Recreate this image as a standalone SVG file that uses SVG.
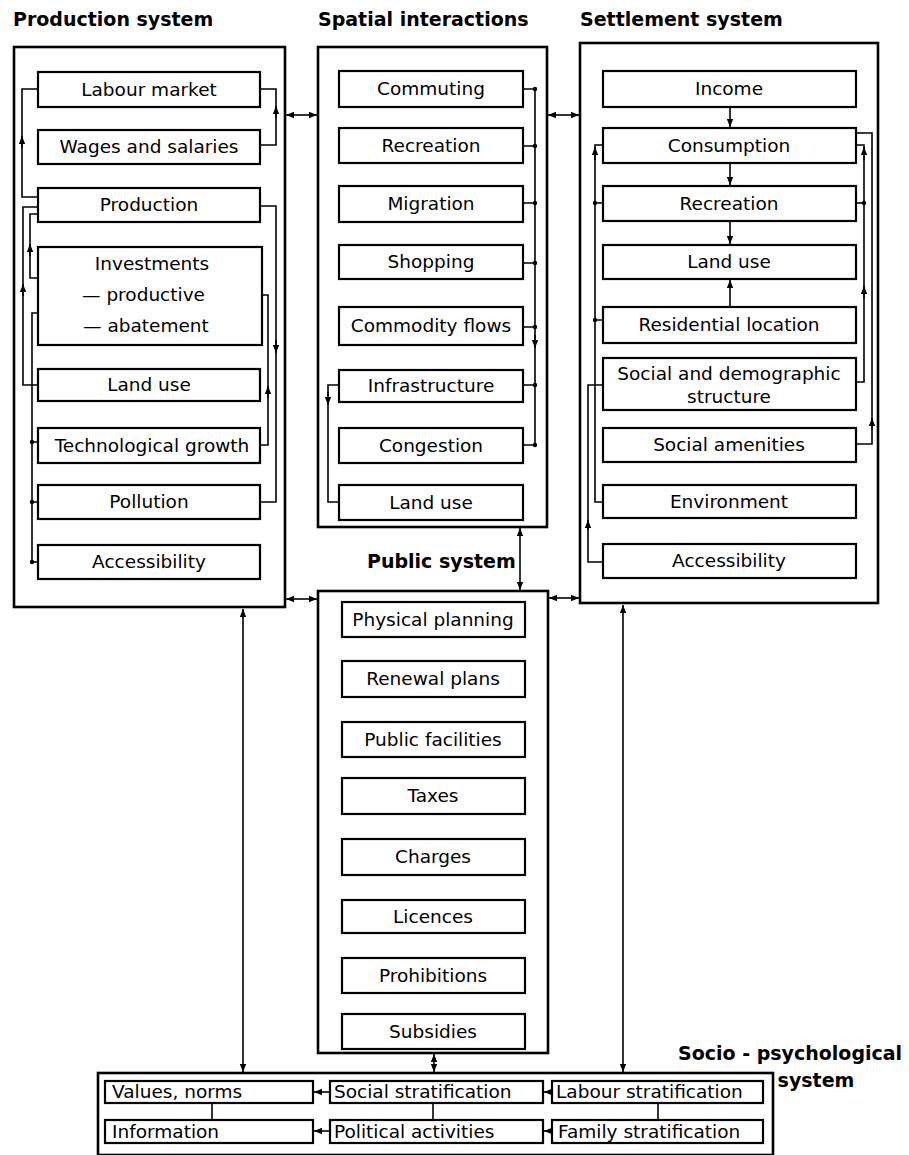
<svg xmlns="http://www.w3.org/2000/svg" width="909" height="1155" viewBox="0 0 909 1155">
<defs>
<marker id="ah" viewBox="0 0 10 10" refX="10" refY="5" markerWidth="8" markerHeight="8" markerUnits="userSpaceOnUse" orient="auto-start-reverse"><path d="M0,1 L10,5 L0,9 z" fill="#000"/></marker>
</defs>
<style>
.outer{fill:none;stroke:#000;stroke-width:2.6}
.box{fill:#fff;stroke:#000;stroke-width:2.2}
.t{font-family:"DejaVu Sans",sans-serif;font-size:18.5px;fill:#000;text-anchor:middle}
.tl{font-family:"DejaVu Sans",sans-serif;font-size:18.5px;fill:#000}
.h{font-family:"DejaVu Sans",sans-serif;font-size:19px;font-weight:bold;fill:#000}
.c{fill:none;stroke:#000;stroke-width:1.6}
.a{fill:none;stroke:#000;stroke-width:1.6;marker-end:url(#ah)}
.d{fill:none;stroke:#000;stroke-width:1.6;marker-start:url(#ah);marker-end:url(#ah)}
.dot{fill:#000}
</style>
<rect width="909" height="1155" fill="#fff"/>

<!-- Production system -->
<g id="production">
<text class="h" x="13" y="26">Production system</text>
<rect class="outer" x="14" y="47" width="271" height="560"/>
<g id="p-labour"><rect class="box" x="38" y="72" width="222" height="35"/><text class="t" x="149" y="96">Labour market</text></g>
<g id="p-wages"><rect class="box" x="38" y="130" width="222" height="34"/><text class="t" x="149" y="153">Wages and salaries</text></g>
<g id="p-production"><rect class="box" x="38" y="188" width="222" height="34"/><text class="t" x="149" y="211">Production</text></g>
<g id="p-investments"><rect class="box" x="38" y="247" width="224" height="98"/>
<text class="t" x="152" y="270">Investments</text><text class="tl" x="82" y="301">— productive</text><text class="tl" x="83" y="332">— abatement</text></g>
<g id="p-landuse"><rect class="box" x="38" y="369" width="222" height="32"/><text class="t" x="149" y="391">Land use</text></g>
<g id="p-tech"><rect class="box" x="38" y="428" width="222" height="35"/><text class="t" x="152" y="452">Technological growth</text></g>
<g id="p-pollution"><rect class="box" x="38" y="485" width="222" height="34"/><text class="t" x="149" y="508">Pollution</text></g>
<g id="p-access"><rect class="box" x="38" y="545" width="222" height="34"/><text class="t" x="149" y="568">Accessibility</text></g>
</g>

<!-- Spatial interactions -->
<g id="spatial">
<text class="h" x="318" y="26">Spatial interactions</text>
<rect class="outer" x="318" y="47" width="229" height="480"/>
<g id="s-commuting"><rect class="box" x="339" y="71" width="184" height="36"/><text class="t" x="431" y="95">Commuting</text></g>
<g id="s-recreation"><rect class="box" x="339" y="128" width="184" height="35"/><text class="t" x="431" y="152">Recreation</text></g>
<g id="s-migration"><rect class="box" x="339" y="186" width="184" height="36"/><text class="t" x="431" y="210">Migration</text></g>
<g id="s-shopping"><rect class="box" x="339" y="245" width="184" height="34"/><text class="t" x="431" y="268">Shopping</text></g>
<g id="s-commodity"><rect class="box" x="339" y="307" width="184" height="38"/><text class="t" x="431" y="332">Commodity flows</text></g>
<g id="s-infra"><rect class="box" x="339" y="370" width="184" height="32"/><text class="t" x="431" y="392">Infrastructure</text></g>
<g id="s-congestion"><rect class="box" x="339" y="428" width="184" height="35"/><text class="t" x="431" y="452">Congestion</text></g>
<g id="s-landuse"><rect class="box" x="339" y="485" width="184" height="35"/><text class="t" x="431" y="509">Land use</text></g>
</g>

<!-- Settlement system -->
<g id="settlement">
<text class="h" x="580" y="26">Settlement system</text>
<rect class="outer" x="580" y="43" width="298" height="560"/>
<g id="t-income"><rect class="box" x="603" y="71" width="253" height="36"/><text class="t" x="729" y="95">Income</text></g>
<g id="t-consumption"><rect class="box" x="603" y="128" width="253" height="35"/><text class="t" x="729" y="152">Consumption</text></g>
<g id="t-recreation"><rect class="box" x="603" y="186" width="253" height="35"/><text class="t" x="729" y="210">Recreation</text></g>
<g id="t-landuse"><rect class="box" x="603" y="245" width="253" height="34"/><text class="t" x="729" y="268">Land use</text></g>
<g id="t-residential"><rect class="box" x="603" y="307" width="253" height="36"/><text class="t" x="729" y="331">Residential location</text></g>
<g id="t-social"><rect class="box" x="603" y="358" width="253" height="52"/><text class="t" x="729" y="380">Social and demographic</text><text class="t" x="729" y="403">structure</text></g>
<g id="t-amenities"><rect class="box" x="603" y="428" width="253" height="34"/><text class="t" x="729" y="451">Social  amenities</text></g>
<g id="t-environment"><rect class="box" x="603" y="485" width="253" height="33"/><text class="t" x="729" y="508">Environment</text></g>
<g id="t-access"><rect class="box" x="603" y="544" width="253" height="34"/><text class="t" x="729" y="567">Accessibility</text></g>
</g>

<!-- Public system -->
<g id="public">
<text class="h" x="367" y="568">Public system</text>
<rect class="outer" x="318" y="591" width="230" height="462"/>
<g id="u-physical"><rect class="box" x="342" y="602" width="183" height="35"/><text class="t" x="433" y="626">Physical planning</text></g>
<g id="u-renewal"><rect class="box" x="342" y="661" width="183" height="36"/><text class="t" x="433" y="685">Renewal plans</text></g>
<g id="u-facilities"><rect class="box" x="342" y="722" width="183" height="35"/><text class="t" x="433" y="746">Public facilities</text></g>
<g id="u-taxes"><rect class="box" x="342" y="778" width="183" height="36"/><text class="t" x="433" y="802">Taxes</text></g>
<g id="u-charges"><rect class="box" x="342" y="839" width="183" height="36"/><text class="t" x="433" y="863">Charges</text></g>
<g id="u-licences"><rect class="box" x="342" y="900" width="183" height="33"/><text class="t" x="433" y="923">Licences</text></g>
<g id="u-prohibitions"><rect class="box" x="342" y="958" width="183" height="35"/><text class="t" x="433" y="982">Prohibitions</text></g>
<g id="u-subsidies"><rect class="box" x="342" y="1014" width="183" height="35"/><text class="t" x="433" y="1038">Subsidies</text></g>
</g>

<!-- Socio-psychological system -->
<g id="socio">
<text class="h" x="678" y="1060">Socio - psychological</text>
<text class="h" x="816" y="1087" text-anchor="middle">system</text>
<rect class="outer" x="98" y="1073" width="675" height="82"/>
<g id="o-values"><rect class="box" x="105" y="1081" width="208" height="22"/><text class="tl" x="112" y="1098">Values, norms</text></g>
<g id="o-information"><rect class="box" x="105" y="1120" width="208" height="23"/><text class="tl" x="112" y="1138">Information</text></g>
<g id="o-socialstrat"><rect class="box" x="330" y="1081" width="213" height="22"/><text class="tl" x="334" y="1098">Social stratification</text></g>
<g id="o-political"><rect class="box" x="330" y="1120" width="213" height="23"/><text class="tl" x="334" y="1138">Political activities</text></g>
<g id="o-labourstrat"><rect class="box" x="552" y="1081" width="211" height="22"/><text class="tl" x="556" y="1098">Labour stratification</text></g>
<g id="o-family"><rect class="box" x="552" y="1120" width="211" height="23"/><text class="tl" x="558" y="1138">Family stratification</text></g>
</g>

<!-- Connectors -->
<g id="connectors">
<!-- between systems -->
<path class="d" d="M286,115 H317"/>
<path class="d" d="M548,115 H579"/>
<path class="d" d="M286,599 H317"/>
<path class="d" d="M549,598 H579"/>
<path class="d" d="M520,528 V590"/>
<path class="d" d="M243,609 V1072"/>
<path class="d" d="M623,605 V1072"/>
<path class="d" d="M434,1054 V1072"/>

<!-- production internal -->
<path class="c" d="M260,89 H276 V145 H260"/>
<path class="a" d="M276,118 V106"/>
<path class="c" d="M38,89 H22 V197 H38"/>
<path class="a" d="M22,148 V136"/>
<path class="c" d="M38,207 H23 V385 H38"/>
<path class="a" d="M23,296 V284"/>
<path class="c" d="M38,214 H30 V278 H38"/>
<path class="a" d="M30,256 V244"/>
<path class="c" d="M38,313 H32 V562 H38"/>
<path class="c" d="M32,442 H38 M32,502 H38"/>
<circle class="dot" cx="32" cy="442" r="2.2"/><circle class="dot" cx="32" cy="502" r="2.2"/><circle class="dot" cx="32" cy="562" r="2.2"/>
<path class="c" d="M260,206 H276 V502 H260"/>
<path class="a" d="M276,340 V353"/>
<path class="c" d="M262,295 H268 V445 H260"/>
<path class="a" d="M268,398 V386"/>

<!-- spatial internal -->
<path class="c" d="M523,89 H535 V445 H523"/>
<path class="c" d="M523,146 H535 M523,203 H535 M523,263 H535 M523,327 H535 M523,385 H535"/>
<circle class="dot" cx="535" cy="89" r="2.2"/><circle class="dot" cx="535" cy="146" r="2.2"/><circle class="dot" cx="535" cy="203" r="2.2"/><circle class="dot" cx="535" cy="263" r="2.2"/><circle class="dot" cx="535" cy="327" r="2.2"/><circle class="dot" cx="535" cy="385" r="2.2"/><circle class="dot" cx="535" cy="445" r="2.2"/>
<path class="a" d="M535,335 V348"/>
<path class="c" d="M339,385 H328 V502 H339"/>
<path class="a" d="M328,392 V405"/>

<!-- settlement internal -->
<path class="a" d="M730,107 V127"/>
<path class="a" d="M730,163 V185"/>
<path class="a" d="M730,221 V244"/>
<path class="a" d="M730,307 V280"/>
<path class="c" d="M603,145 H595 V502 H603"/>
<path class="c" d="M595,203 H603 M595,320 H603"/>
<circle class="dot" cx="595" cy="203" r="2.2"/><circle class="dot" cx="595" cy="320" r="2.2"/>
<path class="a" d="M595,160 V147"/>
<path class="c" d="M603,385 H588 V562 H603"/>
<path class="a" d="M588,530 V520"/>
<path class="c" d="M856,145 H864 V382 H856"/>
<path class="c" d="M856,203 H864"/>
<circle class="dot" cx="864" cy="203" r="2.2"/>
<path class="a" d="M864,160 V147"/>
<path class="a" d="M864,298 V286"/>
<path class="c" d="M856,133 H872 V444 H856"/>
<path class="a" d="M872,430 V418"/>

<!-- socio internal -->
<path class="a" d="M330,1092 H314"/>
<path class="a" d="M330,1131 H314"/>
<path class="a" d="M552,1092 H544"/>
<path class="a" d="M552,1131 H544"/>
<path class="c" d="M212,1103 V1120"/>
<path class="c" d="M433,1103 V1120"/>
<path class="c" d="M658,1103 V1120"/>
</g>
</svg>
